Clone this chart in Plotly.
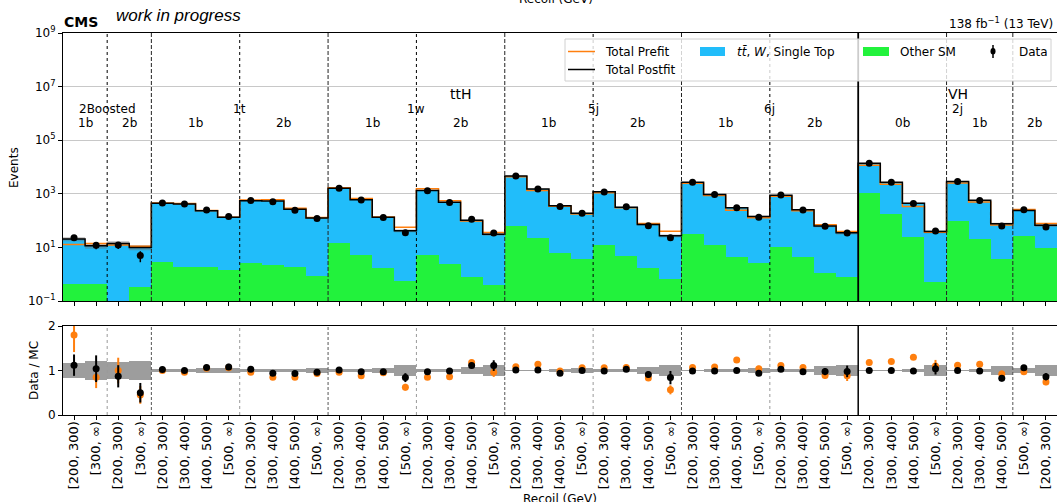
import numpy as np
import plotly.graph_objects as go

W, H = 1057, 502
ML, MR, MT, MB = 63, 0, 33, 87

# ---------------- data ----------------
bin_labels = (
    ["[200, 300)", "[300, ∞)"] * 2
    + ["[200, 300)", "[300, 400)", "[400, 500)", "[500, ∞)"] * 10
    + ["[200, 300)", "[300, 400)", "[400, ∞)"]
    + ["[200, 300)", "[300, ∞)"]
)

postfit_total = [
    20.5, 11.5, 14, 10,
    442, 420, 234, 132, 550, 540, 263, 126,
    1600, 600, 134, 42, 1340, 480, 102, 31,
    4600, 1500, 360, 187, 1180, 316, 71, 27,
    2700, 950, 300, 142, 880, 255, 63, 35,
    13800, 2700, 442, 39,
    2850, 570, 77,
    240, 67,
]

other_sm = [
    0.43, 0.42, 0.0, 0.34,
    2.85, 1.9, 1.86, 1.48, 2.6, 2.2, 1.9, 0.85,
    14, 5.1, 1.75, 0.54, 5.2, 2.35, 0.81, 0.4,
    62, 23, 6, 3.7, 12, 4.8, 1.66, 0.65,
    31.6, 12.3, 4.3, 2.6, 10, 4.3, 1.14, 0.81,
    1050, 180, 24, 0.53,
    93, 20, 3.8,
    27, 9.8,
]

ratio_postfit = [
    1.12, 1.04, 0.87, 0.50,
    1.02, 1.00, 1.07, 1.08, 1.03, 0.94, 0.93, 0.96,
    1.01, 0.97, 0.97, 0.84, 0.97, 0.99, 1.11, 1.11,
    1.01, 1.01, 0.94, 1.00, 0.99, 1.03, 0.91, 0.84,
    0.99, 0.99, 1.00, 0.94, 1.03, 0.97, 0.975, 0.98,
    1.00, 1.00, 0.99, 1.04,
    1.00, 0.99, 0.825,
    1.06, 0.86,
]

ratio_prefit = [
    1.80, 0.85, 1.00, 0.45,
    1.00, 0.96, 1.05, 1.06, 0.96, 0.85, 0.85, 0.93,
    0.96, 0.88, 0.95, 0.625, 0.85, 0.86, 1.18, 0.96,
    1.085, 1.14, 0.99, 1.06, 1.06, 1.07, 0.83, 0.565,
    1.07, 1.08, 1.235, 1.04, 1.11, 1.07, 0.885, 0.88,
    1.18, 1.20, 1.30, 1.10,
    1.12, 1.14, 0.92,
    0.97, 0.74,
]

ratio_err = [
    0.24, 0.30, 0.25, 0.22,
    0.03, 0.03, 0.03, 0.07, 0.03, 0.03, 0.04, 0.06,
    0.02, 0.03, 0.04, 0.10, 0.02, 0.03, 0.06, 0.12,
    0.02, 0.02, 0.04, 0.05, 0.02, 0.04, 0.07, 0.15,
    0.02, 0.03, 0.05, 0.06, 0.03, 0.05, 0.08, 0.13,
    0.01, 0.02, 0.04, 0.13,
    0.02, 0.04, 0.07,
    0.05, 0.08,
]

band_halfwidth = [
    0.17, 0.22, 0.20, 0.22,
    0.04, 0.03, 0.05, 0.06, 0.04, 0.03, 0.04, 0.06,
    0.03, 0.03, 0.05, 0.12, 0.03, 0.04, 0.07, 0.13,
    0.02, 0.02, 0.03, 0.05, 0.03, 0.03, 0.07, 0.13,
    0.02, 0.03, 0.04, 0.06, 0.03, 0.04, 0.10, 0.13,
    0.01, 0.02, 0.04, 0.13,
    0.02, 0.04, 0.09,
    0.05, 0.13,
]

# separators between categories (bin edges)
dotted_edges = [2, 8, 16, 24, 32]
dashed_edges = [4, 12, 20, 28, 40, 43]
solid_edges = [36]

# region labels: (text, x in bins, log10 y, size)
region_labels = [
    ("2Boosted", 2, 6.16, 12), ("1t", 8, 6.16, 12), ("1w", 16, 6.16, 12),
    ("5j", 24, 6.16, 12), ("6j", 32, 6.16, 12),
    ("ttH", 18, 6.72, 14), ("VH", 40.5, 6.72, 14), ("2j", 40.5, 6.16, 12),
    ("1b", 1, 5.64, 12), ("2b", 3, 5.64, 12),
    ("1b", 6, 5.64, 12), ("2b", 10, 5.64, 12),
    ("1b", 14, 5.64, 12), ("2b", 18, 5.64, 12),
    ("1b", 22, 5.64, 12), ("2b", 26, 5.64, 12),
    ("1b", 30, 5.64, 12), ("2b", 34, 5.64, 12),
    ("0b", 38, 5.64, 12), ("1b", 41.5, 5.64, 12), ("2b", 44, 5.64, 12),
]

# ---------------- derived ----------------
T = np.array(postfit_total, float)
G = np.array(other_sm, float)
Rp = np.array(ratio_postfit, float)
Ro = np.array(ratio_prefit, float)
E = np.array(ratio_err, float)
Bw = np.array(band_halfwidth, float)
n = len(T)
centers = np.arange(n) + 0.5
edges = np.arange(n + 1)
data = T * Rp
data_err = T * E
prefit = data / Ro
err_pre = E * Ro / Rp

def step(v):
    return list(v) + [v[-1]]

BLUE = "#21BDFA"
GREEN = "#22F23C"
ORANGE = "#FF7F0E"
FONT = "DejaVu Sans"

fig = go.Figure()

fig.add_trace(go.Bar(x=centers, y=T, width=1, marker=dict(color=BLUE, line=dict(width=0)),
                     xaxis="x", yaxis="y", showlegend=False, hoverinfo="skip"))
fig.add_trace(go.Bar(x=centers, y=np.where(G > 0, G, np.nan), width=1,
                     marker=dict(color=GREEN, line=dict(width=0)),
                     xaxis="x", yaxis="y", showlegend=False, hoverinfo="skip"))
fig.add_trace(go.Scatter(x=edges, y=step(T * (1 + Bw)), mode="lines", line=dict(width=0, shape="hv"),
                         xaxis="x", yaxis="y", showlegend=False, hoverinfo="skip"))
fig.add_trace(go.Scatter(x=edges, y=step(T * (1 - Bw)), mode="lines", line=dict(width=0, shape="hv"),
                         fill="tonexty", fillcolor="rgba(110,110,110,0.45)",
                         xaxis="x", yaxis="y", showlegend=False, hoverinfo="skip"))
fig.add_trace(go.Scatter(x=edges, y=step(prefit), mode="lines", line=dict(color=ORANGE, width=1.5, shape="hv"),
                         xaxis="x", yaxis="y", showlegend=False))
fig.add_trace(go.Scatter(x=edges, y=step(T), mode="lines", line=dict(color="black", width=1.5, shape="hv"),
                         xaxis="x", yaxis="y", showlegend=False))
fig.add_trace(go.Scatter(x=centers, y=data, mode="markers", marker=dict(color="black", size=7),
                         error_y=dict(type="data", array=data_err, color="black", thickness=1.5, width=0),
                         xaxis="x", yaxis="y", showlegend=False))

fig.add_trace(go.Bar(x=centers, y=2 * Bw, base=1 - Bw, width=1,
                     marker=dict(color="rgba(140,140,140,0.85)", line=dict(width=0)),
                     xaxis="x2", yaxis="y2", showlegend=False, hoverinfo="skip"))
fig.add_trace(go.Scatter(x=centers, y=Ro, mode="markers", marker=dict(color=ORANGE, size=7),
                         error_y=dict(type="data", array=err_pre, color=ORANGE, thickness=2, width=0),
                         xaxis="x2", yaxis="y2", showlegend=False))
fig.add_trace(go.Scatter(x=centers, y=Rp, mode="markers", marker=dict(color="black", size=7),
                         error_y=dict(type="data", array=E, color="black", thickness=2, width=0),
                         xaxis="x2", yaxis="y2", showlegend=False))

plot_h = H - MT - MB
def py(p):
    return (H - MB - p) / plot_h
def px(p):
    return (p - ML) / (W - ML - MR)

top_dom = [py(301), 1.0]
bot_dom = [0.0, py(326)]

axis_common = dict(showline=True, linecolor="black", linewidth=1, mirror=True,
                   ticks="outside", ticklen=4, tickcolor="black", zeroline=False,
                   tickfont=dict(family=FONT, size=12, color="black"))

shapes = []
for e in dotted_edges:
    shapes.append(dict(type="line", xref="x", yref="y domain", x0=e, x1=e, y0=0, y1=1,
                       line=dict(color="black", width=1, dash="dot")))
    shapes.append(dict(type="line", xref="x2", yref="y2 domain", x0=e, x1=e, y0=0, y1=1,
                       line=dict(color="#999999", width=1, dash="dot")))
for e in dashed_edges:
    shapes.append(dict(type="line", xref="x", yref="y domain", x0=e, x1=e, y0=0, y1=1,
                       line=dict(color="#222222", width=1, dash="4px,2px")))
    shapes.append(dict(type="line", xref="x2", yref="y2 domain", x0=e, x1=e, y0=0, y1=1,
                       line=dict(color="#555555", width=1, dash="3px,2px")))
for e in solid_edges:
    shapes.append(dict(type="line", xref="x", yref="y domain", x0=e, x1=e, y0=0, y1=1,
                       line=dict(color="black", width=1.8)))
    shapes.append(dict(type="line", xref="x2", yref="y2 domain", x0=e, x1=e, y0=0, y1=1,
                       line=dict(color="black", width=1.5)))

# manual legend
shapes.append(dict(type="rect", xref="paper", yref="paper", x0=px(565), x1=px(1051), y0=py(81), y1=py(39),
                   fillcolor="rgba(255,255,255,0.8)", line=dict(color="#d0d0d0", width=1), layer="above"))
shapes.append(dict(type="line", xref="paper", yref="paper", x0=px(568), x1=px(595), y0=py(51.5), y1=py(51.5),
                   line=dict(color=ORANGE, width=1.5)))
shapes.append(dict(type="line", xref="paper", yref="paper", x0=px(568), x1=px(595), y0=py(69.5), y1=py(69.5),
                   line=dict(color="black", width=1.5)))
shapes.append(dict(type="rect", xref="paper", yref="paper", x0=px(700), x1=px(725), y0=py(56), y1=py(47),
                   fillcolor=BLUE, line=dict(width=0)))
shapes.append(dict(type="rect", xref="paper", yref="paper", x0=px(863), x1=px(889), y0=py(56), y1=py(47),
                   fillcolor=GREEN, line=dict(width=0)))
shapes.append(dict(type="line", xref="paper", yref="paper", x0=px(993), x1=px(993), y0=py(58), y1=py(45),
                   line=dict(color="black", width=1.5)))
shapes.append(dict(type="circle", xref="paper", yref="paper", x0=px(990.5), x1=px(995.5), y0=py(54.5), y1=py(48),
                   fillcolor="black", line=dict(width=0)))

ann = []
def text(t, x, y, size=12, xanchor="left", yanchor="middle", **kw):
    fam = kw.pop("family", FONT)
    ann.append(dict(text=t, x=px(x), y=py(y), xref="paper", yref="paper", showarrow=False,
                    xanchor=xanchor, yanchor=yanchor, font=dict(family=fam, size=size, color="black"), **kw))

text("Total Prefit", 603, 51.5, 12)
text("Total Postfit", 603, 69.5, 12)
text("<i>tt̄</i>, <i>W</i>, Single Top", 735, 51.5, 12)
text("Other SM", 898, 51.5, 12)
text("Data", 1017, 51.5, 12)

text("<b>CMS</b>", 62, 22.5, 14)
text("<i>work in progress</i>", 114, 15.5, 17, family="Liberation Sans")
text("138 fb<sup>−1</sup> (13 TeV)", 1055, 23, 12, xanchor="right")
text("Recoil (GeV)", 556, -1, 12, xanchor="center")
text("Recoil (GeV)", 560, 499, 12, xanchor="center")
text("Events", 14, 168, 12, xanchor="center", textangle=-90)
text("Data / MC", 34, 371, 12, xanchor="center", textangle=-90)

for t, xb, ly, sz in region_labels:
    ann.append(dict(text=t, x=xb, y=ly, xref="x", yref="y", showarrow=False,
                    xanchor="center", yanchor="middle",
                    font=dict(family=FONT, size=sz, color="black")))

fig.update_layout(
    width=W, height=H, margin=dict(l=ML, r=MR, t=MT, b=MB, autoexpand=False),
    paper_bgcolor="white", plot_bgcolor="white",
    barmode="overlay", bargap=0, showlegend=False,
    font=dict(family=FONT, size=12, color="black"),
    xaxis=dict(domain=[0, 1], range=[0, n], anchor="y", tickvals=centers, showticklabels=False,
               showgrid=False, **axis_common),
    yaxis=dict(domain=top_dom, type="log", range=[-1, 9], anchor="x",
               tickvals=[1e-1, 1e1, 1e3, 1e5, 1e7, 1e9],
               ticktext=["10<sup>−1</sup>", "10<sup>1</sup>", "10<sup>3</sup>", "10<sup>5</sup>",
                         "10<sup>7</sup>", "10<sup>9</sup>"],
               showgrid=True, gridcolor="#c8c8c8", gridwidth=1, **axis_common),
    xaxis2=dict(domain=[0, 1], range=[0, n], anchor="y2", matches="x", tickvals=centers,
                ticktext=bin_labels, tickangle=-90, showgrid=False, ticklabelstandoff=-4,
                **{**axis_common, "tickfont": dict(family=FONT, size=13, color="black")}),
    yaxis2=dict(domain=bot_dom, range=[0, 2], anchor="x2", tickvals=[0, 1, 2], showgrid=False,
                **axis_common),
    shapes=shapes, annotations=ann,
)

fig.write_html("out.html", config={"displayModeBar": False},
               post_script="document.body.style.margin='0px';document.body.style.overflow='hidden';")
